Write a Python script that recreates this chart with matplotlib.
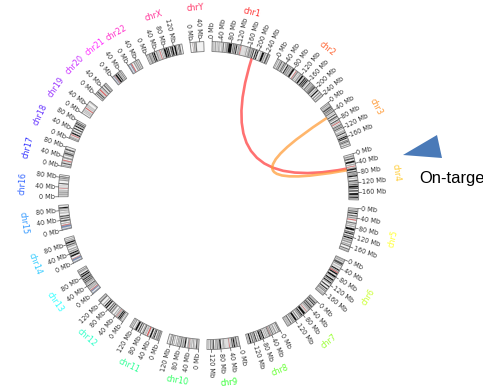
import numpy as np
import matplotlib.pyplot as plt
from matplotlib.patches import Polygon, PathPatch
from matplotlib.path import Path

# chromosome sizes (Mb, hg38)
chrom_names = ['chr1', 'chr2', 'chr3', 'chr4', 'chr5', 'chr6', 'chr7', 'chr8', 'chr9', 'chr10',
               'chr11', 'chr12', 'chr13', 'chr14', 'chr15', 'chr16', 'chr17', 'chr18', 'chr19',
               'chr20', 'chr21', 'chr22', 'chrX', 'chrY']
chrom_lengths = [248.96, 242.19, 198.30, 190.21, 181.54, 170.81, 159.35, 145.14, 138.39, 133.80,
                 135.09, 133.28, 114.36, 107.04, 101.99, 90.34, 83.26, 80.37, 58.62,
                 64.44, 46.71, 50.82, 156.04, 57.23]
label_colors = ['#ff0000', '#ff4000', '#ff8000', '#ffbf00', '#ffff00', '#bfff00', '#80ff00', '#40ff00',
                '#00ff00', '#00ff40', '#00ff80', '#00ffbf', '#00ffff', '#00bfff', '#0080ff', '#0040ff',
                '#0000ff', '#4000ff', '#8000ff', '#bf00ff', '#ff00ff', '#ff00bf', '#ff0080', '#ff0040']
tick_step = 40  # Mb

# giemsa bands (start Mb, end Mb, stain), everything else is gneg
cytobands = {
    'chr1': [(2.3, 5.3, '25'), (7.1, 9.1, '25'), (12.6, 16.1, '50'), (20.3, 23.8, '25'), (28.0, 30.2, '50'),
             (32.3, 34.5, '25'), (39.6, 43.7, '25'), (46.3, 50.2, '75'), (55.6, 58.5, '50'), (60.8, 68.5, '50'),
             (69.3, 84.4, '100'), (88.1, 91.8, '75'), (94.3, 99.3, '75'), (101.8, 106.7, '100'),
             (111.2, 115.6, '50'), (117.2, 120.4, '50'), (121.7, 125.1, 'acen'), (125.1, 143.2, 'gvar'),
             (147.0, 150.3, '50'), (155.0, 156.5, '50'), (158.1, 159.7, '50'), (160.4, 163.9, '75'),
             (165.5, 167.2, '50'), (169.6, 173.3, '75'), (176.1, 180.3, '100'), (185.8, 190.8, '100'),
             (193.8, 198.7, '100'), (207.1, 211.3, '25'), (214.4, 223.9, '100'), (226.8, 231.6, '50'),
             (236.4, 243.5, '75'), (246.8, 248.9, '50')],
    'chr2': [(4.4, 6.9, '50'), (12.0, 16.5, '50'), (19.0, 23.8, '75'), (27.7, 29.8, '25'), (31.8, 36.3, '75'),
             (38.3, 41.5, '75'), (47.5, 52.6, '100'), (54.7, 61.0, '50'), (63.4, 68.4, '50'), (71.3, 73.3, '50'),
             (74.8, 83.1, '100'), (91.0, 94.0, 'acen'), (96.0, 102.0, '50'), (106.5, 108.4, '25'),
             (112.1, 118.1, '50'), (121.6, 129.1, '100'), (131.7, 134.1, '25'), (136.1, 141.5, '100'),
             (143.4, 147.9, '100'), (149.9, 154.9, '100'), (157.0, 158.8, '50'), (164.9, 169.4, '75'),
             (172.5, 176.0, '50'), (179.4, 182.1, '75'), (184.6, 187.8, '100'), (189.2, 197.1, '75'),
             (201.8, 204.5, '50'), (208.8, 214.6, '100'), (220.9, 224.5, '75'), (230.0, 234.7, '50'),
             (239.0, 241.1, '50')],
    'chr3': [(4.0, 8.1, '50'), (11.6, 13.3, '50'), (16.3, 23.8, '75'), (26.3, 30.8, '75'), (32.0, 36.5, '50'),
             (39.3, 43.6, '75'), (47.5, 50.6, '25'), (54.6, 58.1, '100'), (63.8, 69.7, '75'), (71.8, 74.1, '50'),
             (79.8, 83.5, '100'), (87.1, 87.8, '75'), (90.5, 93.7, 'acen'), (98.6, 100.1, '25'),
             (103.1, 106.2, '100'), (108.3, 111.6, '50'), (113.9, 117.1, '100'), (120.5, 122.8, '50'),
             (129.3, 131.2, '25'), (133.2, 135.8, '50'), (139.0, 143.1, '100'), (149.1, 152.1, '50'),
             (155.0, 160.6, '100'), (162.0, 166.6, '100'), (171.8, 175.1, '75'), (176.5, 181.0, '75'),
             (182.9, 184.5, '50'), (189.4, 192.3, '75')],
    'chr4': [(6.0, 11.3, '50'), (15.2, 21.3, '75'), (27.7, 35.8, '100'), (41.2, 44.6, '50'), (49.0, 51.8, 'acen'),
             (56.0, 58.5, '50'), (59.2, 66.1, '100'), (70.5, 76.3, '75'), (78.3, 82.4, '50'), (84.3, 87.1, '75'),
             (88.2, 94.0, '100'), (98.8, 101.1, '50'), (107.7, 114.0, '75'), (116.8, 120.8, '50'),
             (123.8, 128.8, '75'), (131.1, 139.5, '100'), (141.5, 145.1, '100'), (150.3, 155.6, '100'),
             (161.6, 170.1, '100'), (171.0, 175.4, '50'), (176.8, 182.2, '100'), (183.2, 187.1, '50')],
    'chr5': [(4.4, 6.3, '50'), (9.8, 15.0, '75'), (18.4, 23.3, '100'), (28.9, 33.8, '75'), (38.0, 42.5, '50'),
             (46.5, 50.1, 'acen'), (58.9, 63.2, '75'), (67.4, 69.1, '50'), (74.0, 77.6, '50'), (82.8, 92.3, '100'),
             (98.2, 102.8, '75'), (104.5, 109.6, '100'), (115.2, 119.5, '75'), (122.1, 127.9, '100'),
             (131.7, 136.9, '50'), (140.1, 145.1, '50'), (150.4, 153.3, '50'), (156.3, 160.5, '75'),
             (169.0, 173.3, '75'), (177.1, 179.4, '50')],
    'chr6': [(2.3, 4.2, '50'), (7.1, 10.6, '50'), (15.2, 25.2, '75'), (27.0, 30.4, '50'), (36.4, 40.5, '25'),
             (46.2, 51.8, '100'), (53.0, 57.2, '50'), (58.6, 62.6, 'acen'), (63.3, 70.0, '100'),
             (75.9, 83.9, '100'), (84.9, 88.0, '50'), (93.1, 99.5, '100'), (101.2, 104.4, '75'),
             (108.2, 113.9, '100'), (114.0, 117.8, '50'), (125.8, 130.3, '100'), (138.1, 142.9, '100'),
             (147.1, 149.9, '75'), (152.1, 155.1, '75'), (160.0, 161.5, '50'), (163.7, 165.5, '50'),
             (167.0, 170.8, '25')],
    'chr7': [(2.8, 4.5, '25'), (7.3, 13.8, '75'), (16.5, 20.9, '100'), (25.5, 28.0, '50'), (28.8, 35.0, '75'),
             (37.2, 43.3, '75'), (45.4, 49.0, '50'), (50.5, 54.0, '25'), (58.1, 61.1, 'acen'), (61.1, 65.5, 'gvar'),
             (67.5, 77.4, '100'), (81.7, 86.7, '100'), (87.0, 91.0, '75'), (93.3, 98.0, '50'),
             (103.8, 107.4, '75'), (112.0, 120.7, '100'), (123.7, 127.5, '50'), (130.0, 132.9, '75'),
             (138.5, 143.4, '75'), (147.0, 148.0, '50'), (150.3, 152.9, '50'), (155.9, 157.2, '25')],
    'chr8': [(2.2, 6.2, '75'), (10.5, 12.7, '50'), (19.0, 23.3, '50'), (27.4, 28.8, '50'), (32.8, 36.7, '75'),
             (39.7, 43.2, '50'), (44.2, 45.9, 'acen'), (47.2, 51.3, '75'), (52.2, 55.5, '25'), (59.0, 61.6, '50'),
             (66.0, 68.0, '50'), (73.0, 78.5, '100'), (80.3, 84.6, '75'), (85.9, 92.3, '100'),
             (97.4, 100.5, '75'), (106.2, 110.5, '100'), (112.1, 117.7, '50'), (120.7, 125.5, '75'),
             (130.0, 135.8, '100'), (138.9, 141.0, '50')],
    'chr9': [(2.2, 4.6, '25'), (9.0, 14.2, '75'), (16.9, 18.8, '50'), (19.9, 25.6, '100'), (28.0, 33.2, '75'),
             (36.3, 38.4, '25'), (42.2, 45.5, 'acen'), (45.5, 61.5, 'gvar'), (65.0, 68.4, '50'),
             (70.3, 72.7, '25'), (78.3, 85.5, '100'), (87.0, 89.3, '50'), (93.0, 96.5, '75'),
             (99.8, 102.6, '50'), (108.2, 112.1, '100'), (114.9, 117.7, '75'), (122.5, 125.8, '75'),
             (130.3, 132.5, '25')],
    'chr10': [(3.0, 3.8, '25'), (6.6, 12.2, '75'), (17.3, 18.3, '25'), (22.3, 24.3, '75'), (29.3, 31.1, '50'),
              (34.2, 37.8, '25'), (39.8, 41.6, 'acen'), (43.0, 47.3, '50'), (55.3, 61.2, '100'),
              (64.5, 70.1, '50'), (74.1, 78.5, '75'), (82.2, 85.0, '50'), (88.2, 90.4, '75'),
              (95.3, 97.3, '50'), (104.6, 106.3, '50'), (111.0, 114.4, '75'), (119.0, 121.9, '75'),
              (124.3, 125.3, '50')],
    'chr11': [(2.8, 10.7, '50'), (12.9, 16.2, '75'), (21.7, 26.1, '100'), (27.2, 31.0, '75'), (36.4, 43.4, '100'),
              (48.8, 51.0, '25'), (51.0, 55.8, 'acen'), (60.1, 61.9, '50'), (63.6, 66.1, '25'),
              (70.5, 75.5, '75'), (76.7, 78.7, '50'), (85.6, 88.3, '100'), (92.8, 97.2, '100'),
              (102.0, 110.6, '100'), (112.7, 114.5, '50'), (121.2, 123.9, '75'), (127.8, 130.8, '50')],
    'chr12': [(3.2, 5.3, '25'), (10.0, 12.6, '75'), (14.6, 19.8, '100'), (21.1, 26.3, '100'), (27.7, 30.6, '50'),
              (33.2, 35.5, 'acen'), (37.8, 40.0, '50'), (44.9, 47.4, '50'), (57.0, 63.4, '50'),
              (67.7, 71.5, '100'), (75.3, 79.9, '75'), (86.3, 92.2, '100'), (95.4, 100.4, '100'),
              (106.5, 108.6, '50'), (120.3, 125.4, '75'), (128.9, 130.5, '50')],
    'chr13': [(0.0, 4.6, 'stalk'), (10.1, 16.0, 'stalk'), (16.0, 18.9, 'acen'), (22.6, 24.9, '50'),
              (27.2, 28.3, '50'), (31.6, 33.4, '75'), (36.5, 40.1, '100'), (44.6, 45.9, '50'),
              (48.1, 51.5, '50'), (53.7, 59.0, '75'), (61.3, 64.8, '100'), (67.8, 72.8, '100'),
              (74.9, 77.7, '75'), (80.6, 86.7, '100'), (89.3, 94.4, '100'), (101.1, 104.2, '50'),
              (106.4, 109.0, '75')],
    'chr14': [(0.0, 3.6, 'stalk'), (8.0, 16.1, 'stalk'), (16.1, 18.2, 'acen'), (25.9, 32.9, '100'),
              (34.8, 36.6, '50'), (37.4, 43.0, '100'), (46.7, 50.4, '50'), (55.4, 58.8, '50'),
              (67.0, 69.9, '50'), (73.3, 78.8, '75'), (82.4, 88.9, '100'), (91.4, 94.8, '50'),
              (98.7, 100.8, '50')],
    'chr15': [(0.0, 4.2, 'stalk'), (8.5, 17.5, 'stalk'), (17.5, 20.5, 'acen'), (25.5, 27.8, '50'),
              (33.6, 40.1, '75'), (44.8, 49.5, '75'), (52.9, 58.8, '75'), (67.0, 72.9, '25'),
              (78.0, 81.0, '50'), (84.7, 88.5, '50'), (88.5, 93.8, '100')],
    'chr16': [(6.3, 10.3, '50'), (12.5, 14.7, '25'), (16.7, 21.2, '50'), (24.2, 28.5, '25'), (34.6, 36.8, 'acen'),
              (38.4, 47.0, 'gvar'), (52.6, 56.0, '100'), (66.7, 70.8, '50'), (74.1, 79.2, '50'),
              (81.6, 84.1, '100')],
    'chr17': [(3.3, 6.5, '50'), (10.8, 16.1, '75'), (20.0, 22.7, '25'), (24.0, 27.4, 'acen'), (33.5, 39.8, '50'),
              (46.8, 49.3, '50'), (51.2, 58.6, '75'), (59.8, 63.0, '50'), (68.4, 74.8, '75')],
    'chr18': [(2.9, 7.1, '50'), (8.5, 10.9, '25'), (15.4, 18.5, 'acen'), (21.5, 27.5, '100'), (32.7, 37.2, '75'),
              (43.8, 48.0, '100'), (53.8, 59.0, '100'), (61.6, 63.5, '50'), (65.2, 69.4, '100'),
              (71.3, 75.4, '75')],
    'chr19': [(6.9, 9.2, '25'), (12.6, 13.8, '25'), (16.1, 19.9, '25'), (24.4, 28.1, 'acen'),
              (31.9, 35.1, '25'), (38.2, 42.9, '25'), (53.6, 56.3, '25')],
    'chr20': [(5.1, 9.2, '75'), (12.1, 17.9, '75'), (21.3, 22.4, '25'), (25.7, 30.4, 'acen'),
              (33.5, 35.8, '25'), (39.0, 43.1, '75'), (49.8, 55.0, '75'), (58.4, 61.3, '50')],
    'chr21': [(0.0, 3.1, 'stalk'), (7.0, 10.9, 'stalk'), (10.9, 13.0, 'acen'), (15.0, 22.6, '100'),
              (25.5, 30.2, '100'), (33.0, 35.8, '50'), (39.0, 42.0, '75')],
    'chr22': [(0.0, 4.3, 'stalk'), (9.4, 14.3, 'stalk'), (14.3, 17.9, 'acen'), (25.5, 29.6, '50'),
              (33.2, 37.6, '50'), (41.0, 44.2, '50'), (48.2, 49.6, '25')],
    'chrX': [(4.4, 6.1, '50'), (9.6, 17.4, '50'), (19.2, 21.9, '50'), (24.9, 29.3, '100'), (31.5, 37.8, '100'),
             (42.5, 47.6, '50'), (50.1, 54.8, '25'), (58.1, 61.0, 'acen'), (65.1, 67.8, '50'),
             (71.8, 74.0, '50'), (76.8, 85.4, '100'), (87.0, 92.7, '100'), (94.3, 99.1, '100'),
             (104.0, 109.4, '75'), (110.4, 117.4, '100'), (121.8, 129.5, '100'), (131.3, 134.5, '50'),
             (138.9, 141.2, '100'), (143.0, 148.0, '75')],
    'chrY': [(10.3, 10.6, 'acen'), (15.3, 19.0, '50'), (22.2, 26.6, '75')],
}

# links between loci (chrom, Mb) -> (chrom, Mb)
link_from = [('chr1', 180.0), ('chr3', 50.0)]
link_to = [('chr4', 55.0), ('chr4', 62.0)]
link_colors = ['#ff3b3b', '#ff9a33']

marker_label = 'On-target'

stain_colors = {'25': '#c8c8c8', '50': '#8c8c8c', '75': '#555555', '100': '#111111',
                'acen': '#e8393a', 'gvar': '#dedede', 'stalk': '#7a8fb5'}

# layout (pixels)
W, H = 483, 389
cx, cy = 208.5, 195.5
ax_x = 0.975        # slight horizontal squeeze of the ring
r_out, r_in = 154, 144
r_link = 144
r_name = 188
gap_deg = 3.2
start_deg = 1.4
deg_per_mb = (360 - gap_deg * len(chrom_names)) / sum(chrom_lengths)


def polar(theta, r, sx=ax_x, x0=cx):
    t = np.radians(theta)
    return x0 + sx * r * np.sin(t), cy - r * np.cos(t)


def arc_band(theta1, theta2):
    n = max(2, int(abs(theta2 - theta1) * 2) + 2)
    ts = np.linspace(theta1, theta2, n)
    outer = [polar(t, r_out) for t in ts]
    inner = [polar(t, r_in) for t in ts[::-1]]
    return np.array(outer + inner)


chrom_start = {}
theta = start_deg
for name, length in zip(chrom_names, chrom_lengths):
    chrom_start[name] = theta
    theta += length * deg_per_mb + gap_deg


def locus_angle(chrom, mb):
    return chrom_start[chrom] + mb * deg_per_mb


fig = plt.figure(figsize=(W / 100, H / 100), dpi=100)
ax = fig.add_axes([0, 0, 1, 1])
ax.set_xlim(0, W)
ax.set_ylim(H, 0)
ax.axis('off')

for name, length, color in zip(chrom_names, chrom_lengths, label_colors):
    t0 = chrom_start[name]
    t1 = t0 + length * deg_per_mb
    ax.add_patch(Polygon(arc_band(t0, t1), closed=True, facecolor='#f2f2f2', edgecolor='none', zorder=2))
    for b0, b1, stain in cytobands[name]:
        ax.add_patch(Polygon(arc_band(locus_angle(name, b0), locus_angle(name, min(b1, length))),
                             closed=True, facecolor=stain_colors[stain], edgecolor='#b0b0b0',
                             lw=0.2, zorder=3))
    ax.add_patch(Polygon(arc_band(t0, t1), closed=True, facecolor='none', edgecolor='#808080',
                         lw=0.6, zorder=4))

    # Mb ticks
    for mb in np.arange(0, length + 0.01, tick_step):
        t = locus_angle(name, mb)
        p0 = polar(t, r_out)
        p1 = polar(t, r_out + 3)
        ax.plot([p0[0], p1[0]], [p0[1], p1[1]], color='#555555', lw=0.5, zorder=4)
        tx, ty = polar(t, r_out + 3.5)
        tn = t % 360
        if tn < 180:
            rot, ha = 90 - tn, 'left'
        else:
            rot, ha = 270 - tn, 'right'
        ax.text(tx, ty, '%d Mb' % mb, fontsize=4.7, color='#333333', rotation=rot,
                rotation_mode='anchor', ha=ha, va='center', zorder=5)

    # chromosome name
    tm = (t0 + t1) / 2
    nx, ny = polar(tm, r_name, sx=1.0, x0=cx + 1.5)
    rot = -tm
    while rot <= -180:
        rot += 360
    if rot < -90:
        rot += 180
    elif rot > 90:
        rot -= 180
    ax.text(nx, ny, name, fontsize=5.8, color=color, alpha=0.8, rotation=rot, rotation_mode='anchor',
            ha='center', va='center', zorder=5)

# links as quadratic curves through the centre
for (c1, m1), (c2, m2), color in zip(link_from, link_to, link_colors):
    p0 = polar(locus_angle(c1, m1), r_link)
    p1 = polar(locus_angle(c2, m2), r_link)
    path = Path([p0, (cx, cy), p1], [Path.MOVETO, Path.CURVE3, Path.CURVE3])
    ax.add_patch(PathPatch(path, facecolor='none', edgecolor=color, lw=1.9, alpha=0.72, zorder=6))

# on-target marker
ax.add_patch(Polygon([(403, 155), (437, 135), (442, 158)], closed=True,
                     facecolor='#4a7ab8', edgecolor='none', zorder=7))
ax.text(419, 183, marker_label, fontsize=11.9, family='Liberation Sans', color='black',
        ha='left', va='baseline', zorder=7)

fig.savefig('out.png', dpi=100, facecolor='white')
